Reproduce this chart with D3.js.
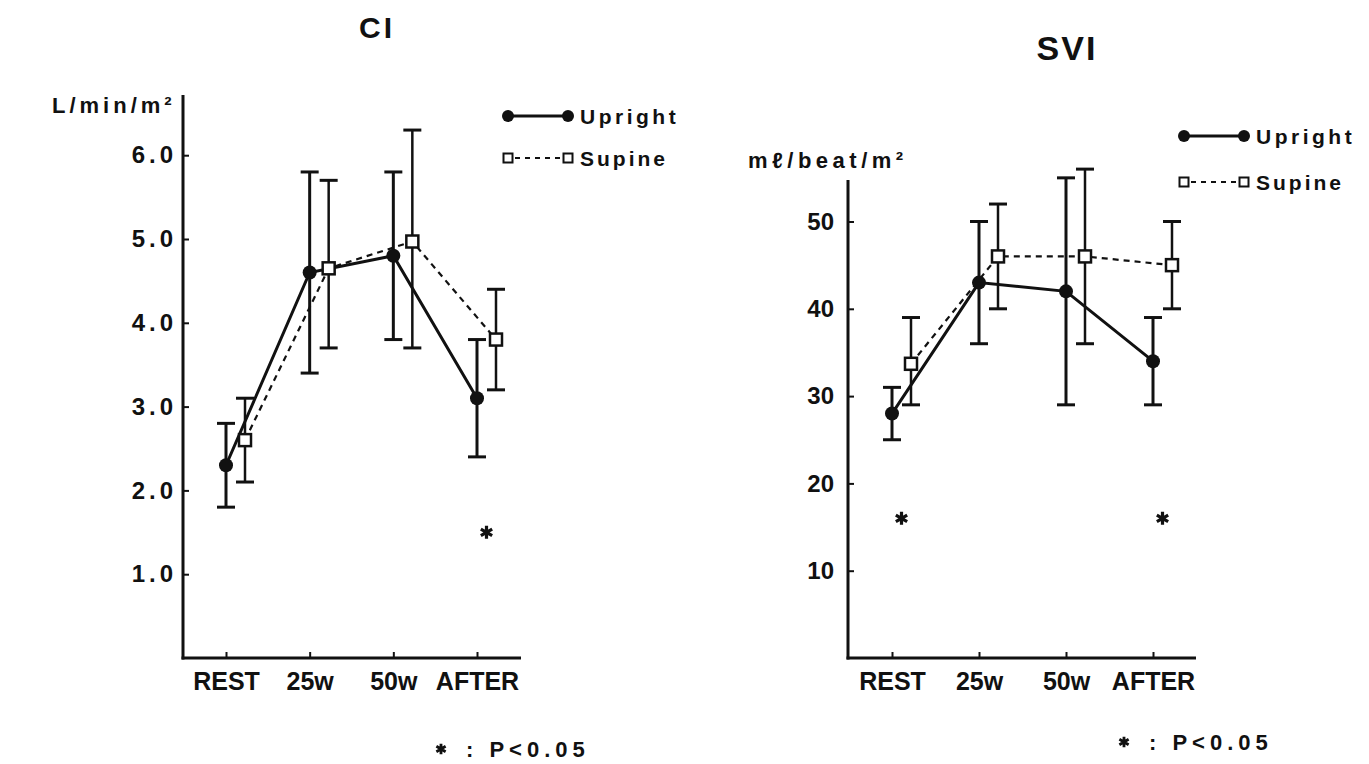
<!DOCTYPE html>
<html>
<head>
<meta charset="utf-8">
<script src="https://cdn.jsdelivr.net/npm/d3@7"></script>
<style>
  html, body { margin: 0; padding: 0; background: #fff; }
  svg text { font-family: "Liberation Sans", Arial, sans-serif; font-weight: bold; fill: #111; }
</style>
</head>
<body>
<svg id="chart" width="1369" height="764"></svg>
<script>
// Measurement phases shared by both panels
const phases = ["REST", "25w", "50w", "AFTER"];

// Cardiac index (L/min/m²)
const ciUpright     = [2.3, 4.6, 4.8, 3.1];
const ciUprightLow  = [1.8, 3.4, 3.8, 2.4];
const ciUprightHigh = [2.8, 5.8, 5.8, 3.8];
const ciSupine      = [2.6, 4.65, 4.97, 3.8];
const ciSupineLow   = [2.1, 3.7, 3.7, 3.2];
const ciSupineHigh  = [3.1, 5.7, 6.3, 4.4];
const ciTicks = [1, 2, 3, 4, 5, 6];
const ciStars = [{ phase: "AFTER", value: 1.5 }];

// Stroke volume index (mℓ/beat/m²)
const sviUpright     = [28, 43, 42, 34];
const sviUprightLow  = [25, 36, 29, 29];
const sviUprightHigh = [31, 50, 55, 39];
const sviSupine      = [33.7, 46, 46, 45];
const sviSupineLow   = [29, 40, 36, 40];
const sviSupineHigh  = [39, 52, 56, 50];
const sviTicks = [10, 20, 30, 40, 50];
const sviStars = [{ phase: "REST", value: 16 }, { phase: "AFTER", value: 16 }];

const svg = d3.select("#chart");
const ink = "#111";
const star = d3.symbol().type(d3.symbolAsterisk);

function series(vals, lo, hi) {
  return phases.map((p, i) => ({ phase: p, v: vals[i], lo: lo[i], hi: hi[i] }));
}

function panel(cfg) {
  const g = svg.append("g");
  const x = d3.scalePoint().domain(phases).range(cfg.xRange);
  const y = d3.scaleLinear().domain(cfg.yDomain).range([cfg.yBottom, cfg.yTop]);
  const off = cfg.offset;

  // axis lines
  g.append("line").attr("x1", cfg.axisX).attr("x2", cfg.axisX)
    .attr("y1", cfg.yTop).attr("y2", cfg.yBottom + 1.5)
    .attr("stroke", ink).attr("stroke-width", 3);
  g.append("line").attr("x1", cfg.axisX - 1.5).attr("x2", cfg.axisEnd)
    .attr("y1", cfg.yBottom).attr("y2", cfg.yBottom)
    .attr("stroke", ink).attr("stroke-width", 3);

  // y ticks
  const ya = g.append("g").attr("transform", `translate(${cfg.axisX},0)`)
    .call(d3.axisLeft(y).tickValues(cfg.ticks).tickFormat(cfg.fmt).tickSize(-6).tickPadding(cfg.tickPad));
  ya.select(".domain").remove();
  ya.selectAll(".tick line").attr("stroke", ink).attr("stroke-width", 2);
  ya.selectAll(".tick text").style("font-size", "24px").style("letter-spacing", cfg.tickSpacing)
    .attr("fill", ink);

  // x ticks
  const xa = g.append("g").attr("transform", `translate(0,${cfg.yBottom})`)
    .call(d3.axisBottom(x).tickSize(-6).tickPadding(14));
  xa.select(".domain").remove();
  xa.selectAll(".tick line").attr("stroke", ink).attr("stroke-width", 2);
  xa.selectAll(".tick text").style("font-size", "25px").attr("fill", ink);

  // title and unit
  g.append("text").attr("x", cfg.titleX).attr("y", cfg.titleY).attr("text-anchor", "middle")
    .style("font-size", cfg.titleSize).style("letter-spacing", cfg.titleSpacing).text(cfg.title);
  g.append("text").attr("x", cfg.unitX).attr("y", cfg.unitY).attr("text-anchor", "start")
    .style("font-size", "22px").style("letter-spacing", cfg.unitSpacing).text(cfg.unit);

  const up = series(cfg.up, cfg.upLo, cfg.upHi);
  const su = series(cfg.su, cfg.suLo, cfg.suHi);

  const errBars = (data, dx, w) => {
    const e = g.append("g");
    data.forEach(d => {
      const cx = x(d.phase) + dx;
      e.append("line").attr("x1", cx).attr("x2", cx).attr("y1", y(d.lo)).attr("y2", y(d.hi))
        .attr("stroke", ink).attr("stroke-width", w);
      [d.lo, d.hi].forEach(v => e.append("line")
        .attr("x1", cx - 9).attr("x2", cx + 9).attr("y1", y(v)).attr("y2", y(v))
        .attr("stroke", ink).attr("stroke-width", 3));
    });
  };
  errBars(su, off, 2.5);
  errBars(up, 0, 3);

  const line = dx => d3.line().x(d => x(d.phase) + dx).y(d => y(d.v));
  g.append("path").datum(su).attr("d", line(off)).attr("fill", "none")
    .attr("stroke", ink).attr("stroke-width", 2.2).attr("stroke-dasharray", "6,5");
  g.append("path").datum(up).attr("d", line(0)).attr("fill", "none")
    .attr("stroke", ink).attr("stroke-width", 3);

  g.selectAll(".up").data(up).join("circle")
    .attr("cx", d => x(d.phase)).attr("cy", d => y(d.v)).attr("r", 7).attr("fill", ink);
  g.selectAll(".su").data(su).join("rect")
    .attr("x", d => x(d.phase) + off - 6).attr("y", d => y(d.v) - 6)
    .attr("width", 12).attr("height", 12)
    .attr("fill", "#fff").attr("stroke", ink).attr("stroke-width", 2.5);

  // significance markers
  g.selectAll(".star").data(cfg.stars).join("path")
    .attr("transform", d => `translate(${x(d.phase) + off * 0.5},${y(d.value)})`)
    .attr("d", star.size(120)).attr("fill", "none").attr("stroke", ink).attr("stroke-width", 3.2);

  // legend
  const L = cfg.legend;
  g.append("line").attr("x1", L.x).attr("x2", L.x + 60).attr("y1", L.y).attr("y2", L.y)
    .attr("stroke", ink).attr("stroke-width", 3);
  [L.x, L.x + 60].forEach(cx => g.append("circle").attr("cx", cx).attr("cy", L.y).attr("r", 6).attr("fill", ink));
  g.append("text").attr("x", L.x + 72).attr("y", L.y + 8).style("font-size", "21px")
    .style("letter-spacing", "3.5px").text("Upright");
  const y2 = L.y + L.gap;
  g.append("line").attr("x1", L.x + 7).attr("x2", L.x + 53).attr("y1", y2).attr("y2", y2)
    .attr("stroke", ink).attr("stroke-width", 2.2).attr("stroke-dasharray", "5,5");
  [L.x, L.x + 60].forEach(cx => g.append("rect").attr("x", cx - 4.5).attr("y", y2 - 4.5)
    .attr("width", 9).attr("height", 9).attr("fill", "#fff").attr("stroke", ink).attr("stroke-width", 2));
  g.append("text").attr("x", L.x + 72).attr("y", y2 + 8).style("font-size", "21px")
    .style("letter-spacing", "3px").text("Supine");

  // footnote
  const n = g.append("g").attr("transform", `translate(${cfg.noteX},${cfg.noteY})`);
  n.append("path").attr("transform", "translate(7,-8)").attr("d", star.size(80))
    .attr("fill", "none").attr("stroke", ink).attr("stroke-width", 2.8);
  n.append("text").attr("x", 32).attr("y", 0).style("font-size", "22px")
    .style("letter-spacing", "5px").text(": P<0.05");
}

panel({
  title: "CI", titleX: 377, titleY: 38, titleSize: "30px", titleSpacing: "3px",
  unit: "L/min/m\u00B2", unitX: 52, unitY: 113, unitSpacing: "4px",
  axisX: 183, axisEnd: 521, yTop: 95, yBottom: 658,
  yDomain: [0, (658 - 95) / 83.8],
  xRange: [226, 477], offset: 19,
  ticks: ciTicks, fmt: d3.format(".1f"), tickSpacing: "4px", tickPad: 6,
  up: ciUpright, upLo: ciUprightLow, upHi: ciUprightHigh,
  su: ciSupine, suLo: ciSupineLow, suHi: ciSupineHigh,
  stars: ciStars,
  legend: { x: 508, y: 116, gap: 42 },
  noteX: 434, noteY: 757
});

panel({
  title: "SVI", titleX: 1067, titleY: 60, titleSize: "34px", titleSpacing: "2px",
  unit: "m\u2113/beat/m\u00B2", unitX: 748, unitY: 168, unitSpacing: "4.5px",
  axisX: 848, axisEnd: 1196, yTop: 180, yBottom: 658,
  yDomain: [0, (658 - 180) / 8.73],
  xRange: [892, 1153], offset: 19,
  ticks: sviTicks, fmt: d3.format("d"), tickSpacing: "0px", tickPad: 14,
  up: sviUpright, upLo: sviUprightLow, upHi: sviUprightHigh,
  su: sviSupine, suLo: sviSupineLow, suHi: sviSupineHigh,
  stars: sviStars,
  legend: { x: 1184, y: 136, gap: 46 },
  noteX: 1117, noteY: 750
});
</script>
</body>
</html>
